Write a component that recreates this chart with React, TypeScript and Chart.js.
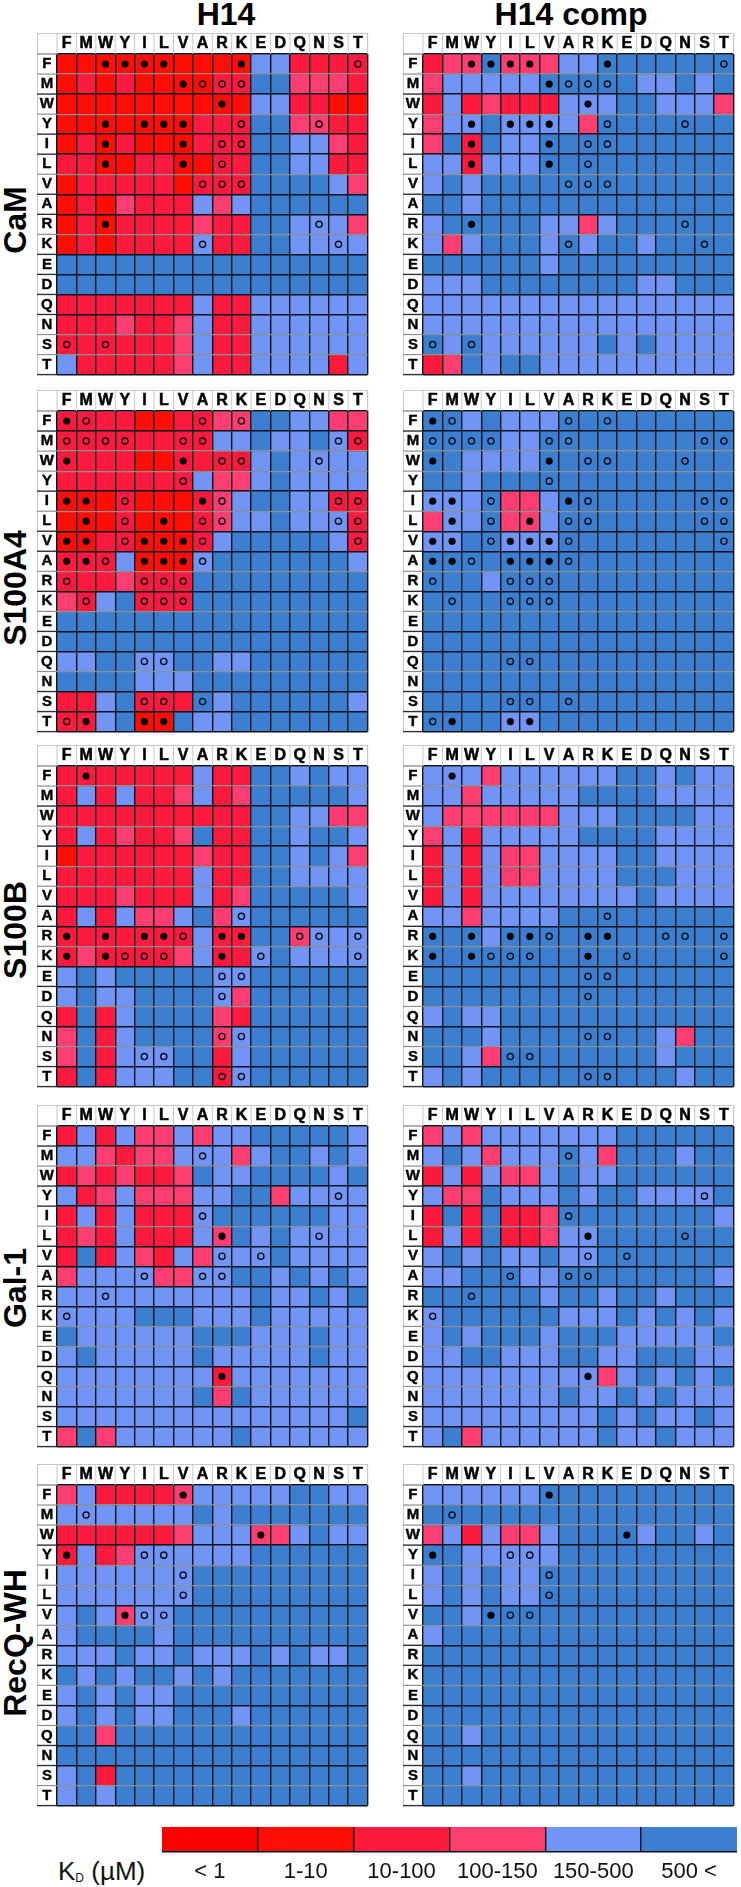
import React, { useEffect, useRef } from "react";
import { Chart, registerables } from "chart.js";

Chart.register(...registerables);

const residues = ["F", "M", "W", "Y", "I", "L", "V", "A", "R", "K", "E", "D", "Q", "N", "S", "T"];
const proteins = ["CaM", "S100A4", "S100B", "Gal-1", "RecQ-WH"];
const titles = ["H14", "H14 comp"];
const legendLabels = ["< 1", "1-10", "10-100", "100-150", "150-500", "500 <"];
const levelColors = ["#ff0000", "#ff0d06", "#fe1a3e", "#fe3d70", "#7295f5", "#3c7fd1"];

const D = "5555555555555555";
const B = "4444444444444444";

const camH14 = ["1111111111442222","1212111122553332","1111111111442211","1111111222553322","1212111222554432","2211221122554422","1222221222555543","1213222434555555","1212222322554443","1212222422554444",D,D,"2222222422444444","2223223422444444","2222223422444444","4222223422444424"];
const camComp = ["2335333445555555","3444445555544545","2423222444554443","3445444435555555","3525445555555555","4424445555555555","4545555555555555","5545555555555555","4555554434555555","4345554545545555","5555554555555555","4445555555544555",B,B,"5454444445454444","2354554444444444"];
const a4H14 = ["2222112233554433","2222222244544542","2222112222454444","2222222433454444","1112111234554422","1112111234454442","1122111245555542","2224111455555554","2223222555555555","3245222555555555",D,D,"4455445544555555","5555444555555555","2245222545555554","2245115445555555"];
const a4Comp = ["5545444555555555","5555445555555555","5544445555555555","5545555555555555","4445334555555555","3445334555555555","4455444555555555",D,"5554555555555555",D,D,D,D,D,D,"5555445555555555"];
const bH14 = ["2222222422554544","2424223423555554","2222222222554433","2423223522554554","1222222322554543","2222222422554444","2223222423555554","2424334534555555","2222222422553444","2322223422454444","4545555544555555","4544555543555555","2524555532555555","3524555534555555","3524445524555555","2524445524555555"];
const bComp = ["4443444444554544","4434444455554444","4333333444555544","3424444455554444","2424334444554444","2424334444555444","2424444444454444","4434444555555555","5554555555555555",D,D,D,"4544555555555555","5554555555554355","5543555555554555","4545555555555455"];
const galH14 = ["2424334344555554","4432334443455454","2323223544555545","4234333445534444","2424222455555544","2324222435454444","2524324344454444","3444433445545454","4444444444544545","4444555444544444","5444444555444544","4544444544444544","4444444424444444","4444444535444444","4444444444444445","3534444445444444"];
const galComp = ["3434444444555555","4543444543555455","2424334544555555","4335444545544445","2525223555555554","2425223445555555","4545445445555555","4455544555555554","5555554554554555","4555555444545454","4545554555444445","4455444554455544","4444444443454545","4444444544545444","4444444445454454","4534444445445444"];
const recH14 = ["3422223444445544","4444444545555555","2222223444334544","2423444444555555","4444444555555555","4444444555555555","4543445555555555","4555545555555555","4445445444545445","5454554545555555","4545445555555555","4545445554555555","5535555555555555",D,"4525555555555555","4545555555555555"];
const recComp = ["4444445555555555",D,"3424334555545545","5544444555555555","4545445555555555","4545445555555555","5545555555555555","4555555555555555",D,D,D,D,"5545555555555555",D,"5545555555555555",D];

const N0 = "................";
const camMarks = ["..ffff...f.....o","......fooo......","........f.......","..f.fff..o...o..","..f...f.oo......","..f...f.o.......",".......ooo......",N0,"..f..........o..",".......o......o.",N0,N0,N0,N0,"o.o.............",N0];
const a4Marks = ["fo.....o.o......","oooo..oo......oo","f.....f.oo...o..","......o.........","ff.o...fo.....oo",".f.o.f.oo.....oo","ff.offfo.......o","ffo.fffo........","o...ooo.........",".o..ooo.........",N0,N0,"....oo..........",N0,"....oo.o........","of..ff.........."];
const bMarks = [".f..............",N0,N0,N0,N0,N0,N0,".........o......","f.f.ffo.ff..oo.o","f.fooo..f.o....o","........oo......","........o.......",N0,"........oo......","....oo..........","........oo......"];
const galMarks = [N0,".......o........",N0,"..............o.",".......o........","........f....o..","........o.o.....","....o..oo.......","..o.............","o...............",N0,N0,"........f.......",N0,N0,N0];
const recMarks = ["......f.........",".o..............",  "..........f.....","f...oo..........","......o.........","......o.........","...foo..........",N0,N0,N0,N0,N0,N0,N0,N0,N0];

// row boundaries 1..15: g = grey line, k = black line (differs from block to block)
const camLines = "gkgkkgkkgkkkkgg";
const a4Lines = "kggkgkkgkgkkgkk";
const bLines = "gkgkggkkgkkgkgk";
const galLines = "kgkkgkkkkggkgkk";
const recLines = "ggkggkgkkgkgkkg";

const heatmaps = [camH14, camComp, a4H14, a4Comp, bH14, bComp, galH14, galComp, recH14, recComp];
const markSets = [camMarks, a4Marks, bMarks, galMarks, recMarks];
const lineSets = [camLines, a4Lines, bLines, galLines, recLines];

const FONT = "'Liberation Sans', Arial, sans-serif";
const BLACK = "#0b131d";
const GREY = "#8b918c";
const LABEL_W = 20;
const HEAD_H = 21;
const CELLS_W = 315;
const CELLS_H = 325;
const colLefts = [57, 423];
const rowTops = [54, 411, 766, 1126, 1485];
const nameCentres = [220, 588, 930, 1288, 1643];

const headerFrame = {
  id: "headerFrame",
  afterDraw(chart: any, _a: any, opts: any) {
    const { ctx, chartArea: a } = chart;
    const n = residues.length;
    const cw = (a.right - a.left) / n;
    const rh = (a.bottom - a.top) / n;
    ctx.save();
    ctx.lineWidth = 1;
    ctx.strokeStyle = "#c6c8c6";
    ctx.beginPath();
    ctx.moveTo(0.5, a.bottom);
    ctx.lineTo(0.5, 0.5);
    ctx.lineTo(a.right, 0.5);
    ctx.lineTo(a.right, a.top);
    for (let i = 0; i <= n; i++) {
      const x = a.left + i * cw;
      ctx.moveTo(x, 0);
      ctx.lineTo(x, a.top);
    }
    ctx.stroke();
    for (let i = 0; i <= n; i++) {
      const y = a.top + i * rh;
      const grey = i > 0 && i < n && opts.lines[i - 1] === "g";
      ctx.strokeStyle = i === 0 ? "#8b918c" : grey ? GREY : "#2b3138";
      ctx.lineWidth = grey ? 1.2 : 1.4;
      ctx.beginPath();
      ctx.moveTo(0, y);
      ctx.lineTo(a.left, y);
      ctx.stroke();
    }
    ctx.restore();
  },
};

function Panel({ cells, marks, lines, left, top }: any) {
  const ref = useRef<HTMLCanvasElement>(null);
  useEffect(() => {
    const rowSets = cells.map((row: string, r: number) => ({
      type: "bar",
      label: residues[r],
      order: 2,
      data: residues.map(() => [r, r + 1]),
      backgroundColor: row.split("").map((c) => levelColors[Number(c)]),
      borderWidth: 0,
      barPercentage: 1,
      categoryPercentage: 1,
      grouped: false,
    }));
    const points = (kind: string) => {
      const out: any[] = [];
      marks.forEach((row: string, r: number) =>
        row.split("").forEach((c, i) => {
          if (c === kind) out.push({ x: residues[i], y: r + 0.5 });
        })
      );
      return out;
    };
    const chart = new Chart(ref.current as any, {
      type: "bar",
      data: {
        labels: residues,
        datasets: [
          ...rowSets,
          { type: "line", label: "filled", order: 0, showLine: false, data: points("f"), pointRadius: 3.6, pointBackgroundColor: "#000", pointBorderWidth: 0 },
          { type: "line", label: "open", order: 0, showLine: false, data: points("o"), pointRadius: 3.1, pointBackgroundColor: "transparent", pointBorderColor: "#0a0f16", pointBorderWidth: 1.4 },
        ],
      } as any,
      plugins: [headerFrame as any],
      options: {
        animation: false,
        responsive: false,
        devicePixelRatio: 1,
        maintainAspectRatio: false,
        layout: { padding: { right: 1, bottom: 1 } },
        plugins: { legend: { display: false }, tooltip: { enabled: false }, headerFrame: { lines } } as any,
        scales: {
          x: {
            type: "category",
            position: "top",
            afterFit: (s: any) => {
              s.height = HEAD_H;
              s.paddingLeft = s.paddingRight = 0;
            },
            border: { display: false },
            grid: { offset: true, drawTicks: false, z: 1, color: BLACK, lineWidth: 1.4 },
            ticks: { color: "#000", autoSkip: false, maxRotation: 0, padding: 1, textStrokeColor: "#000", textStrokeWidth: 0.5, font: { family: FONT, weight: "bold", size: 16 } },
          },
          y: {
            type: "linear",
            reverse: true,
            min: 0,
            max: residues.length,
            afterFit: (s: any) => {
              s.width = LABEL_W;
              s.paddingTop = s.paddingBottom = 0;
            },
            border: { display: false },
            grid: {
              drawTicks: false,
              z: 1,
              color: (c: any) => {
                const v = c.tick.value;
                if (!Number.isInteger(v)) return "transparent";
                return v > 0 && v < 16 && lines[v - 1] === "g" ? GREY : BLACK;
              },
              lineWidth: (c: any) => {
                const v = c.tick.value;
                if (!Number.isInteger(v)) return 0;
                return v > 0 && v < 16 && lines[v - 1] === "g" ? 1.2 : 1.4;
              },
            },
            ticks: {
              stepSize: 0.5,
              autoSkip: false,
              color: "#000",
              padding: 3,
              crossAlign: "center",
              textStrokeColor: "#000",
              textStrokeWidth: 0.4,
              font: { family: FONT, weight: "bold", size: 15 },
              callback: (v: any) => (Number.isInteger(v) ? "" : residues[Math.floor(v)]),
            },
          },
        },
      } as any,
    });
    return () => chart.destroy();
  }, []);
  return (
    <canvas
      ref={ref}
      width={LABEL_W + CELLS_W + 1}
      height={HEAD_H + CELLS_H + 1}
      style={{ position: "absolute", left: left - LABEL_W, top: top - HEAD_H }}
    />
  );
}

function LegendBar() {
  const ref = useRef<HTMLCanvasElement>(null);
  useEffect(() => {
    const chart = new Chart(ref.current as any, {
      type: "bar",
      data: {
        labels: legendLabels,
        datasets: [
          {
            label: "KD",
            data: legendLabels.map(() => [0, 1]),
            backgroundColor: levelColors,
            borderWidth: 0,
            barPercentage: 1,
            categoryPercentage: 1,
          },
        ],
      } as any,
      options: {
        animation: false,
        responsive: false,
        devicePixelRatio: 1,
        maintainAspectRatio: false,
        layout: { padding: 0 },
        plugins: { legend: { display: false }, tooltip: { enabled: false } },
        scales: {
          x: {
            type: "category",
            afterFit: (s: any) => {
              s.height = 35;
              s.paddingLeft = s.paddingRight = 0;
            },
            border: { display: true, color: BLACK, width: 1.4, z: 2 },
            grid: {
              offset: true,
              drawTicks: false,
              z: 1,
              color: BLACK,
              lineWidth: (c: any) => (c.index > 0 ? 1.4 : 0),
            },
            ticks: { color: "#111", maxRotation: 0, autoSkip: false, padding: 7, font: { family: FONT, size: 22 } },
          },
          y: { type: "linear", min: 0, max: 1, display: false },
        },
      } as any,
    });
    return () => chart.destroy();
  }, []);
  return <canvas ref={ref} width={575} height={60} style={{ position: "absolute", left: 162, top: 1827 }} />;
}

export default function App() {
  return (
    <div style={{ position: "absolute", left: 0, top: 0, width: 741, height: 1887, background: "#fff", overflow: "hidden", fontFamily: FONT }}>
      {titles.map((t, i) => (
        <div key={t} style={{ position: "absolute", left: i === 0 ? 226 : 571, top: -2, transform: "translateX(-50%)", fontSize: 32, lineHeight: "32px", fontWeight: 700, whiteSpace: "nowrap", color: "#000" }}>
          {t}
        </div>
      ))}
      {proteins.map((p, i) => (
        <div key={p} style={{ position: "absolute", left: 15, top: nameCentres[i], transform: "translate(-50%,-50%) rotate(-90deg)", fontSize: 32, lineHeight: "32px", fontWeight: 700, whiteSpace: "nowrap", color: "#000" }}>
          {p}
        </div>
      ))}
      {rowTops.map((top, r) =>
        colLefts.map((left, c) => (
          <Panel key={r + "-" + c} cells={heatmaps[r * 2 + c]} marks={markSets[r]} lines={lineSets[r]} left={left} top={top} />
        ))
      )}
      <LegendBar />
      <div style={{ position: "absolute", left: 58, top: 1856, fontSize: 26, lineHeight: "30px", color: "#111", whiteSpace: "nowrap" }}>
        K<span style={{ fontSize: 12, verticalAlign: "-2px" }}>D</span> (µM)
      </div>
    </div>
  );
}
